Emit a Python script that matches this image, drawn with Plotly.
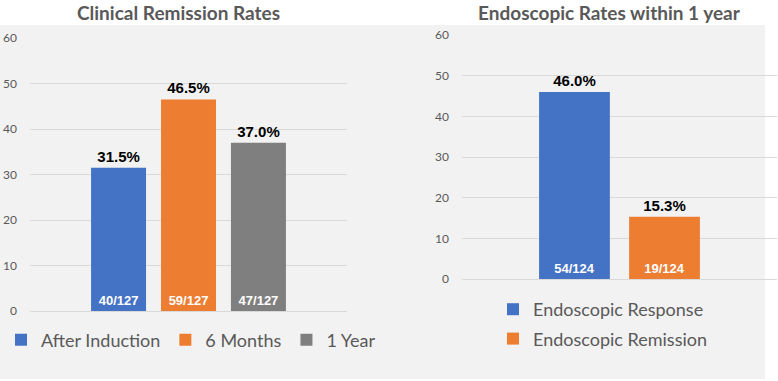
import plotly.graph_objects as go

W, H = 778, 381

# ---- data ----
clin_series = ["After Induction", "6 Months", "1 Year"]
clin_values = [31.5, 46.5, 37.0]
clin_counts = ["40/127", "59/127", "47/127"]
clin_colors = ["#4472C4", "#ED7D31", "#7F7F7F"]

endo_series = ["Endoscopic Response", "Endoscopic Remission"]
endo_values = [46.0, 15.3]
endo_counts = ["54/124", "19/124"]
endo_colors = ["#4472C4", "#ED7D31"]

titles = ["Clinical Remission Rates", "Endoscopic Rates within 1 year"]
y_ticks = [0, 10, 20, 30, 40, 50, 60]

GRAY = "#595959"
LABEL_FONT = "Liberation Sans, Arial, sans-serif"
TEXT_FONT = "Lato, Open Sans, sans-serif"

fig = go.Figure()

def add_series(names, values, counts, colors, xa, ya, legend, cat):
    for i, (n, v, c, col) in enumerate(zip(names, values, counts, colors)):
        og = f"{legend}_{i}"
        # visible bar with percentage label on top
        fig.add_trace(go.Bar(
            x=[cat], y=[v], name=n, marker=dict(color=col, line=dict(width=0)),
            offsetgroup=og, legendgroup=og, xaxis=xa, yaxis=ya, legend=legend,
            text=[f"<b>{v:.1f}%</b>"], textposition="outside", textangle=0,
            outsidetextfont=dict(family=LABEL_FONT, size=15, color="#000000"),
            cliponaxis=False, hoverinfo="skip",
        ))
        # count label inside at the base
        fig.add_trace(go.Bar(
            x=[cat], y=[v], name=n, showlegend=False,
            marker=dict(color="rgba(0,0,0,0)", line=dict(width=0)),
            offsetgroup=og, legendgroup=og, xaxis=xa, yaxis=ya, legend=legend,
            text=[f"<b>{c}</b>"], textposition="inside", insidetextanchor="start", textangle=0,
            insidetextfont=dict(family=LABEL_FONT, size=13, color="#FFFFFF"),
            hoverinfo="skip",
        ))

add_series(clin_series, clin_values, clin_counts, clin_colors, "x", "y", "legend", "clin")
add_series(endo_series, endo_values, endo_counts, endo_colors, "x2", "y2", "legend2", "endo")

def px_x(p):
    return p / W

def px_y(p):
    return (H - p) / H

yaxis_common = dict(
    range=[0, 60], tickvals=y_ticks, showgrid=True, gridcolor="#D9D9D9", gridwidth=1,
    zeroline=True, zerolinecolor="#D9D9D9", zerolinewidth=1, showline=False,
    tickfont=dict(family=TEXT_FONT, size=12, color=GRAY), ticks="",
    ticklabelstandoff=12, fixedrange=True, automargin=False,
)

fig.update_layout(
    width=W, height=H,
    margin=dict(l=0, r=0, t=0, b=0, pad=0, autoexpand=False),
    paper_bgcolor="#FFFFFF", plot_bgcolor="rgba(0,0,0,0)",
    barmode="group", bargap=0.338, bargroupgap=0.214,
    showlegend=True,
    xaxis=dict(domain=[px_x(30), px_x(347)], showticklabels=False, showgrid=False,
               zeroline=False, showline=False, range=[-0.5, 0.5], fixedrange=True,
               automargin=False),
    yaxis=dict(domain=[px_y(311), px_y(38)], anchor="x", **yaxis_common),
    xaxis2=dict(domain=[px_x(462), px_x(777)], showticklabels=False, showgrid=False,
                zeroline=False, showline=False, range=[-0.579, 0.579], anchor="y2",
                fixedrange=True, automargin=False),
    yaxis2=dict(domain=[px_y(279), px_y(35)], anchor="x2", **yaxis_common),
    legend=dict(orientation="h", x=px_x(1), xanchor="left", y=px_y(340), yanchor="middle",
                font=dict(family=TEXT_FONT, size=18, color=GRAY),
                bgcolor="rgba(0,0,0,0)", borderwidth=0, itemclick=False, itemdoubleclick=False),
    legend2=dict(orientation="v", x=px_x(493), xanchor="left", y=px_y(324), yanchor="middle",
                 font=dict(family=TEXT_FONT, size=18, color=GRAY), tracegroupgap=3,
                 bgcolor="rgba(0,0,0,0)", borderwidth=0, itemclick=False, itemdoubleclick=False),
    shapes=[dict(type="rect", xref="paper", yref="paper",
                 x0=0, x1=px_x(765), y0=px_y(379), y1=px_y(25),
                 fillcolor="#F2F2F2", line=dict(width=0), layer="below")],
    annotations=[
        dict(text=f"<b>{titles[0]}</b>", xref="paper", yref="paper", x=px_x(178), y=px_y(12),
             xanchor="center", yanchor="middle", showarrow=False,
             font=dict(family=TEXT_FONT, size=19, color=GRAY)),
        dict(text=f"<b>{titles[1]}</b>", xref="paper", yref="paper", x=px_x(609), y=px_y(12),
             xanchor="center", yanchor="middle", showarrow=False,
             font=dict(family=TEXT_FONT, size=19, color=GRAY)),
    ],
)

fig.write_html(
    "out.html",
    config={"displayModeBar": False, "staticPlot": False},
    post_script="document.body.style.margin='0';document.body.style.overflow='hidden';",
)
